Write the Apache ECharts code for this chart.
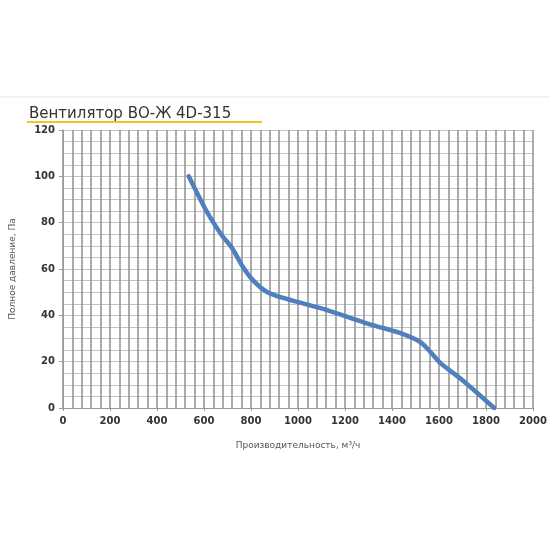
<!DOCTYPE html>
<html>
<head>
<meta charset="utf-8">
<script src="https://cdn.jsdelivr.net/npm/echarts@6/dist/echarts.min.js"></script>
<style>
  html, body { margin: 0; padding: 0; background: #fff; }
  #chart { width: 550px; height: 550px; }
</style>
</head>
<body>
<div id="chart"></div>
<script>
// кривая вентилятора: [производительность м3/ч, давление Па]
var flow = [535, 600, 640, 680, 720, 765, 810, 870, 955, 1100, 1220, 1310, 1430, 1520, 1565, 1605, 1700, 1835];
var pressure = [100, 87, 80, 74, 69, 61, 55, 50, 47, 43, 39, 36, 32.5, 28.5, 24, 19.5, 12, 0];

var titleText = 'Вентилятор ВО-Ж 4D-315';
var xName = 'Производительность, м³/ч';
var yName = 'Полное давление, Па';

var points = [];
for (var i = 0; i < flow.length; i++) {
  points.push([flow[i], pressure[i]]);
}

var chart = echarts.init(document.getElementById('chart'));
var option = {
  animation: false,
  backgroundColor: '#fff',
  title: {
    text: titleText,
    left: 24,
    top: 102,
    textStyle: { fontFamily: 'DejaVu Sans', fontSize: 15, fontWeight: 'normal', color: '#333' }
  },
  graphic: [
    { type: 'line', shape: { x1: 0, y1: 97, x2: 550, y2: 97 }, style: { stroke: '#e6e6e6', lineWidth: 1 } },
    { type: 'line', shape: { x1: 27, y1: 122, x2: 262, y2: 122 }, style: { stroke: '#f2c230', lineWidth: 2 } }
  ],
  grid: { left: 62, right: 17, top: 130, bottom: 142 },
  xAxis: {
    type: 'value',
    min: 0,
    max: 2000,
    interval: 200,
    name: xName,
    nameLocation: 'middle',
    nameGap: 33,
    nameTextStyle: { fontFamily: 'DejaVu Sans', fontSize: 9, color: '#555' },
    axisLine: { show: true, lineStyle: { color: '#999' } },
    axisTick: { show: true, length: 3, lineStyle: { color: '#999' } },
    axisLabel: {
      fontFamily: 'DejaVu Sans', fontSize: 10, fontWeight: 'bold', color: '#333', margin: 8,
      formatter: function (v) { return String(v); }
    },
    minorTick: { show: false, splitNumber: 5 },
    splitLine: { show: true, lineStyle: { color: '#909090', width: 1.5 } },
    minorSplitLine: { show: true, lineStyle: { color: '#909090', width: 1.5 } }
  },
  yAxis: {
    type: 'value',
    min: 0,
    max: 120,
    interval: 20,
    name: yName,
    nameLocation: 'middle',
    nameGap: 46,
    nameTextStyle: { fontFamily: 'DejaVu Sans', fontSize: 9, color: '#555' },
    axisLine: { show: true, lineStyle: { color: '#999' } },
    axisTick: { show: true, length: 4, lineStyle: { color: '#999' } },
    axisLabel: { fontFamily: 'DejaVu Sans', fontSize: 10, fontWeight: 'bold', color: '#333', margin: 8 },
    minorTick: { show: false, splitNumber: 4 },
    splitLine: { show: true, lineStyle: { color: '#c4c4c4', width: 1 } },
    minorSplitLine: { show: true, lineStyle: { color: '#c4c4c4', width: 1 } }
  },
  series: [{
    type: 'line',
    data: points,
    smooth: 0.3,
    showSymbol: false,
    lineStyle: { color: '#4f7fbd', width: 4.5, cap: 'round' }
  }]
};
chart.setOption(option);
</script>
</body>
</html>
